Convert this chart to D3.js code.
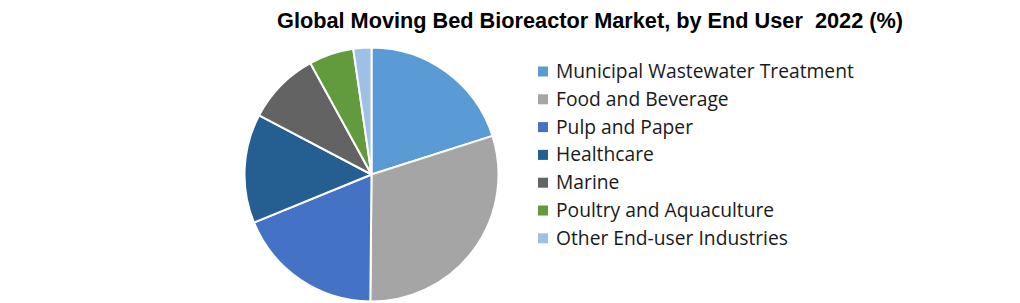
<!DOCTYPE html>
<html><head><meta charset="utf-8">
<script src="https://cdn.jsdelivr.net/npm/d3@7"></script>
<style>body{margin:0;background:#fff}svg{display:block}</style>
</head><body>
<svg id="c" width="1020" height="303"></svg>
<script>
const categories = ["Municipal Wastewater Treatment","Food and Beverage","Pulp and Paper","Healthcare","Marine","Poultry and Aquaculture","Other End-user Industries"];
const values = [20.1, 30.1, 18.7, 13.9, 9.3, 5.7, 2.3];
const colors = ["#5B9BD5","#A5A5A5","#4472C4","#255E91","#636363","#629B3E","#9DC0E4"];
const title = "Global Moving Bed Bioreactor Market, by End User  2022 (%)";

const svg = d3.select("#c");
const cx = 371.5, cy = 174.5, r = 127;
const pie = d3.pie().sort(null).value(d => d.v);
const arc = d3.arc().innerRadius(0).outerRadius(r);
const data = categories.map((c,i)=>({c, v: values[i]}));
const color = d3.scaleOrdinal().domain(categories).range(colors);

svg.append("g").attr("transform",`translate(${cx},${cy})`)
  .selectAll("path").data(pie(data)).join("path")
  .attr("d", arc).attr("fill", d=>color(d.data.c))
  .attr("stroke","#fff").attr("stroke-width",2).attr("stroke-linejoin","round");

svg.append("text").attr("x",590).attr("y",28).attr("text-anchor","middle")
  .attr("font-family","Liberation Sans, sans-serif").attr("font-weight","bold")
  .attr("font-size",21.5).attr("fill","#000").style("white-space","pre")
  .attr("textLength",626).attr("lengthAdjust","spacingAndGlyphs").text(title);

const lg = svg.append("g");
const rows = lg.selectAll("g").data(categories).join("g")
  .attr("transform",(d,i)=>`translate(538,${71.5 + i*27.8})`);
rows.append("rect").attr("x",0).attr("y",-5).attr("width",10).attr("height",10).attr("fill",d=>color(d));
const lt = rows.append("text").attr("x",18).attr("y",6.5)
  .attr("font-family","Open Sans, sans-serif").attr("font-size",18).attr("fill","#1a1a1a").text(d=>d);
const w0 = lt.nodes()[0].getComputedTextLength();
lt.attr("font-size", 18*298/w0);
</script>
</body></html>
